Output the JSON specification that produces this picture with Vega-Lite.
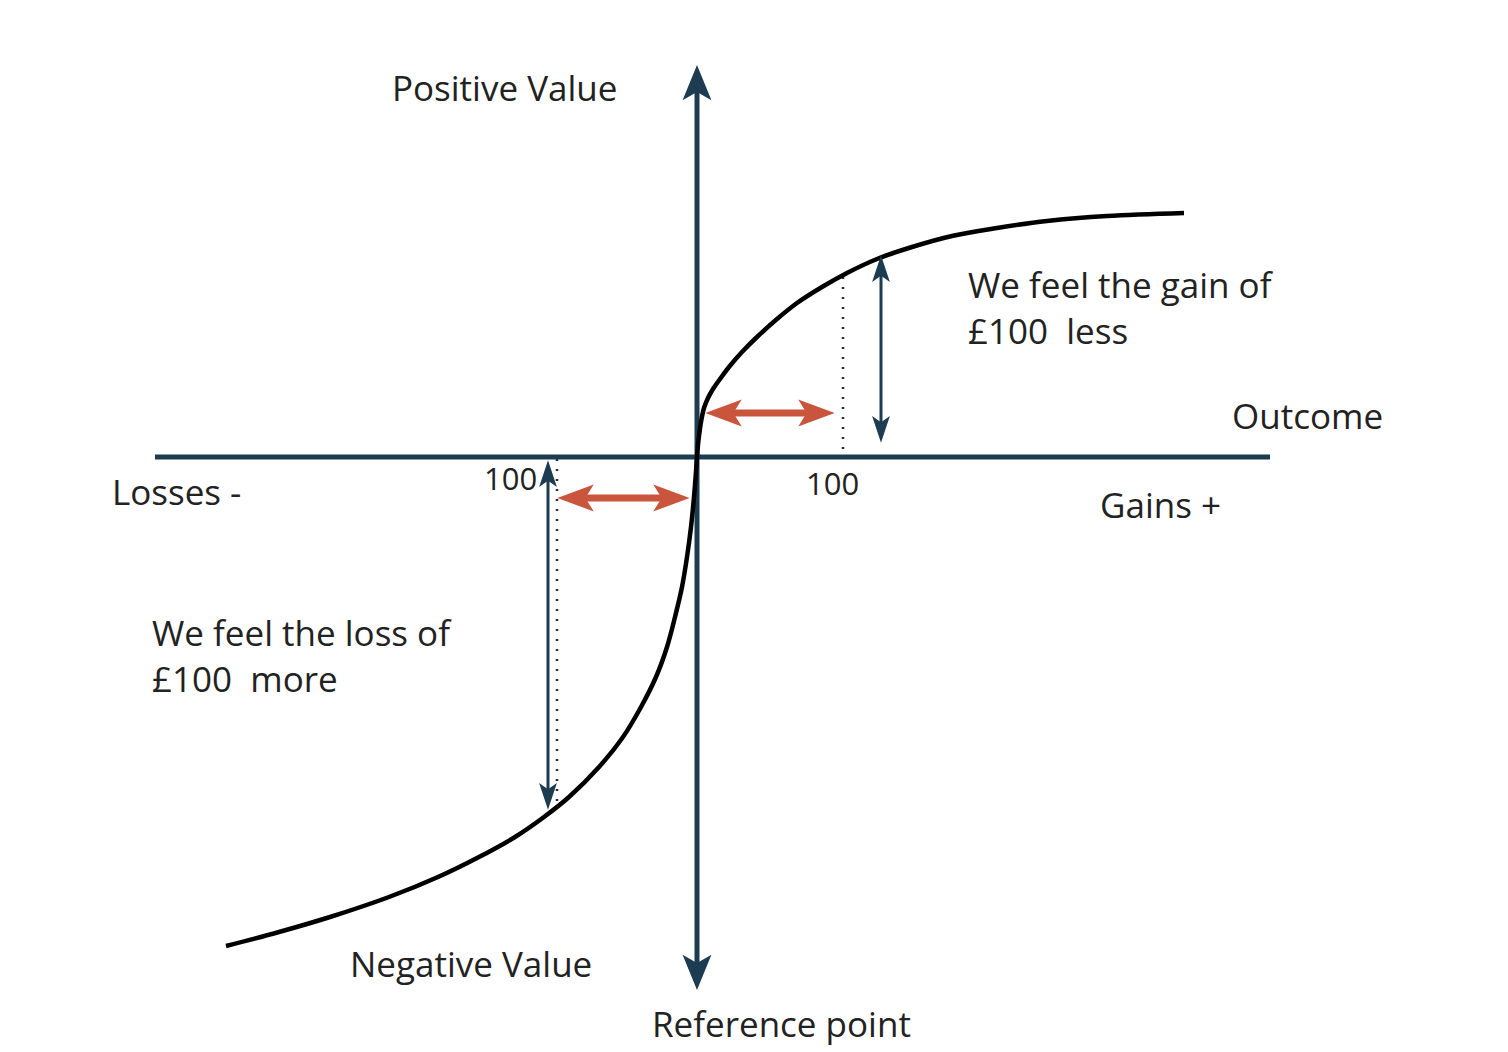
{
  "$schema": "https://vega.github.io/schema/vega-lite/v6.json",
  "width": 1508,
  "height": 1052,
  "autosize": {"type": "fit", "contains": "padding"},
  "padding": 0,
  "background": "white",
  "config": {"view": {"stroke": null}},
  "datasets": {
    "curve": [
      {"u": -471, "v": -489}, {"u": -418, "v": -475}, {"u": -367, "v": -460}, {"u": -308, "v": -440},
      {"u": -259, "v": -420}, {"u": -218, "v": -400}, {"u": -182, "v": -380}, {"u": -153, "v": -360},
      {"u": -128, "v": -340}, {"u": -98, "v": -310}, {"u": -74, "v": -280}, {"u": -56, "v": -250},
      {"u": -41, "v": -220}, {"u": -30, "v": -190}, {"u": -22, "v": -160}, {"u": -15, "v": -130},
      {"u": -10, "v": -100}, {"u": -6, "v": -70}, {"u": -3, "v": -40}, {"u": -1.4, "v": -20},
      {"u": 0, "v": 0}, {"u": 1, "v": 12}, {"u": 2, "v": 21}, {"u": 4, "v": 35},
      {"u": 7, "v": 49}, {"u": 11, "v": 59}, {"u": 16, "v": 68}, {"u": 23, "v": 78},
      {"u": 32, "v": 90}, {"u": 45, "v": 105}, {"u": 60, "v": 120}, {"u": 80, "v": 138},
      {"u": 100, "v": 154}, {"u": 125, "v": 170}, {"u": 150, "v": 184}, {"u": 180, "v": 198},
      {"u": 215, "v": 210}, {"u": 255, "v": 221}, {"u": 300, "v": 229}, {"u": 350, "v": 236},
      {"u": 410, "v": 241}, {"u": 487, "v": 244}
    ],
    "axes": [
      {"name": "outcome", "u": -542, "v": 0, "u2": 573, "v2": 0},
      {"name": "value", "u": 0, "v": 374, "u2": 0, "v2": -515}
    ],
    "redArrows": [
      {"name": "gain", "u": 27, "u2": 119, "v": 44},
      {"name": "loss", "u": -121, "u2": -26, "v": -41}
    ],
    "navyArrows": [
      {"name": "gain", "u": 184, "v": 188, "v2": 28},
      {"name": "loss", "u": -149, "v": -17, "v2": -339}
    ],
    "dotted": [
      {"name": "gain", "u": 146, "v": 180, "v2": 3},
      {"name": "loss", "u": -140, "v": -2, "v2": -350}
    ],
    "bigLabels": [
      {"label": "Positive Value", "u": -305, "v": 367},
      {"label": "Outcome", "u": 535, "v": 39},
      {"label": "Losses -", "u": -585, "v": -37},
      {"label": "Gains +", "u": 403, "v": -50},
      {"label": "We feel the gain of", "u": 271, "v": 170},
      {"label": "£100\u00a0 less", "u": 271, "v": 124},
      {"label": "We feel the loss of", "u": -545, "v": -178},
      {"label": "£100\u00a0 more", "u": -545, "v": -224},
      {"label": "Negative Value", "u": -347, "v": -509},
      {"label": "Reference point", "u": -45, "v": -569}
    ],
    "tickLabels": [
      {"label": "100", "u": -213, "v": -24},
      {"label": "100", "u": 109, "v": -29}
    ]
  },
  "layer": [
    {
      "data": {"name": "dotted"},
      "mark": {"type": "rule", "color": "#2a2a2a", "strokeWidth": 2.5, "strokeDash": [2, 8]},
      "encoding": {
        "x": {"field": "u", "type": "quantitative", "scale": {"domain": [-697, 811], "nice": false, "zero": false}, "axis": null},
        "y": {"field": "v", "type": "quantitative", "scale": {"domain": [-595, 457], "nice": false, "zero": false}, "axis": null},
        "y2": {"field": "v2"}
      }
    },
    {
      "data": {"name": "axes"},
      "mark": {"type": "rule", "color": "#1d3c52", "strokeWidth": 5},
      "encoding": {
        "x": {"field": "u", "type": "quantitative"},
        "y": {"field": "v", "type": "quantitative"},
        "x2": {"field": "u2"},
        "y2": {"field": "v2"}
      }
    },
    {
      "data": {"name": "axes"},
      "transform": [{"filter": "datum.name === 'value'"}],
      "mark": {"type": "point", "filled": true, "opacity": 1, "color": "#1d3c52", "size": 1300, "shape": "M0,-1 L0.8,0.95 L0,0.5 L-0.8,0.95 Z"},
      "encoding": {
        "x": {"field": "u", "type": "quantitative"},
        "y": {"field": "v", "type": "quantitative"}
      }
    },
    {
      "data": {"name": "axes"},
      "transform": [{"filter": "datum.name === 'value'"}],
      "mark": {"type": "point", "filled": true, "opacity": 1, "color": "#1d3c52", "size": 1300, "shape": "M0,1 L0.8,-0.95 L0,-0.5 L-0.8,-0.95 Z"},
      "encoding": {
        "x": {"field": "u2", "type": "quantitative"},
        "y": {"field": "v2", "type": "quantitative"}
      }
    },
    {
      "data": {"name": "curve"},
      "mark": {"type": "line", "color": "#000000", "strokeWidth": 4.5, "interpolate": "catmull-rom"},
      "encoding": {
        "x": {"field": "u", "type": "quantitative"},
        "y": {"field": "v", "type": "quantitative"},
        "order": {"field": "v", "type": "quantitative"}
      }
    },
    {
      "data": {"name": "navyArrows"},
      "mark": {"type": "rule", "color": "#1d3c52", "strokeWidth": 3},
      "encoding": {
        "x": {"field": "u", "type": "quantitative"},
        "y": {"field": "v", "type": "quantitative"},
        "y2": {"field": "v2"}
      }
    },
    {
      "data": {"name": "navyArrows"},
      "mark": {"type": "point", "filled": true, "opacity": 1, "color": "#1d3c52", "size": 750, "shape": "M0,-1 L0.65,0.95 L0,0.5 L-0.65,0.95 Z"},
      "encoding": {
        "x": {"field": "u", "type": "quantitative"},
        "y": {"field": "v", "type": "quantitative"}
      }
    },
    {
      "data": {"name": "navyArrows"},
      "mark": {"type": "point", "filled": true, "opacity": 1, "color": "#1d3c52", "size": 750, "shape": "M0,1 L0.65,-0.95 L0,-0.5 L-0.65,-0.95 Z"},
      "encoding": {
        "x": {"field": "u", "type": "quantitative"},
        "y": {"field": "v2", "type": "quantitative"}
      }
    },
    {
      "data": {"name": "redArrows"},
      "mark": {"type": "rule", "color": "#c9553c", "strokeWidth": 7},
      "encoding": {
        "x": {"field": "u", "type": "quantitative"},
        "x2": {"field": "u2"},
        "y": {"field": "v", "type": "quantitative"}
      }
    },
    {
      "data": {"name": "redArrows"},
      "mark": {"type": "point", "filled": true, "opacity": 1, "color": "#c9553c", "size": 1400, "shape": "M-1,0 L0.95,-0.72 L0.5,0 L0.95,0.72 Z"},
      "encoding": {
        "x": {"field": "u", "type": "quantitative"},
        "y": {"field": "v", "type": "quantitative"}
      }
    },
    {
      "data": {"name": "redArrows"},
      "mark": {"type": "point", "filled": true, "opacity": 1, "color": "#c9553c", "size": 1400, "shape": "M1,0 L-0.95,-0.72 L-0.5,0 L-0.95,0.72 Z"},
      "encoding": {
        "x": {"field": "u2", "type": "quantitative"},
        "y": {"field": "v", "type": "quantitative"}
      }
    },
    {
      "data": {"name": "bigLabels"},
      "mark": {"type": "text", "align": "left", "baseline": "middle", "font": "Open Sans", "fontSize": 35, "color": "#222222"},
      "encoding": {
        "x": {"field": "u", "type": "quantitative"},
        "y": {"field": "v", "type": "quantitative"},
        "text": {"field": "label"}
      }
    },
    {
      "data": {"name": "tickLabels"},
      "mark": {"type": "text", "align": "left", "baseline": "middle", "font": "Open Sans", "fontSize": 31, "color": "#222222"},
      "encoding": {
        "x": {"field": "u", "type": "quantitative"},
        "y": {"field": "v", "type": "quantitative"},
        "text": {"field": "label"}
      }
    }
  ]
}
